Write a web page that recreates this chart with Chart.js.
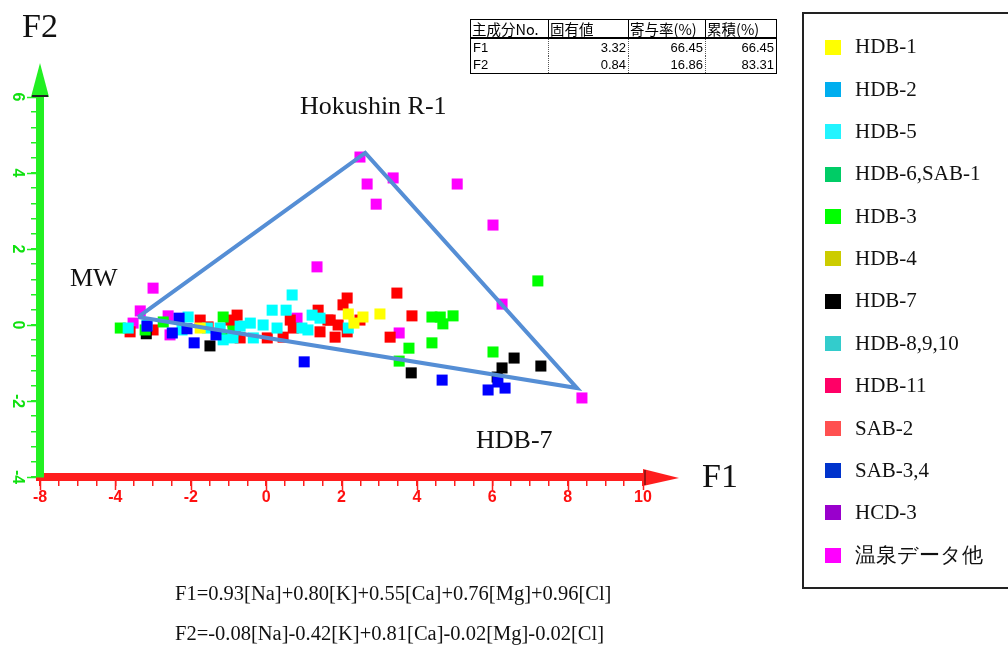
<!DOCTYPE html>
<html><head><meta charset="utf-8">
<script src="https://cdn.jsdelivr.net/npm/chart.js@4.4.1/dist/chart.umd.min.js"></script>
<style>
html,body{margin:0;padding:0;background:#fff;}
#wrap{position:relative;width:1008px;height:645px;overflow:hidden;background:#fff;}
#c{position:absolute;left:0;top:0;}
.lbl{position:absolute;font-family:"Liberation Serif","Times New Roman",serif;line-height:1;white-space:nowrap;color:#111;}
#legend{position:absolute;left:802px;top:12px;width:230px;height:577px;border:2.5px solid #222;box-sizing:border-box;}
.lg{position:absolute;left:0;height:22px;white-space:nowrap;}
.sw{position:absolute;left:21px;width:16px;height:15px;}
.lt{position:absolute;left:51px;font-family:"Liberation Serif","Times New Roman",serif;font-size:21px;line-height:1;color:#111;}
#tbl{position:absolute;left:470px;top:19px;border-collapse:collapse;border:1.5px solid #000;}
#tbl td{padding:0 2px;height:17px;line-height:17px;font-family:"Liberation Sans",Arial,sans-serif;font-size:13px;color:#000;}
#tbl tr.h td{font-family:"Noto Sans CJK JP",sans-serif;font-size:14.5px;border-bottom:2px solid #000;border-right:1px solid #000;text-align:left;padding:0 1px;}
#tbl tr.d td{border-right:1px dotted #555;text-align:right;}
#tbl tr.d td:first-child{text-align:left;}
</style></head>
<body>
<div id="wrap">
<canvas id="c" width="1008" height="645"></canvas>
<div class="lbl" style="left:22px;top:9px;font-size:34px;">F2</div>
<div class="lbl" style="left:702px;top:459px;font-size:34px;">F1</div>
<div class="lbl" style="left:300px;top:93px;font-size:26px;">Hokushin R-1</div>
<div class="lbl" style="left:70px;top:265px;font-size:26px;">MW</div>
<div class="lbl" style="left:476px;top:427px;font-size:26px;">HDB-7</div>
<div class="lbl" style="left:175px;top:583px;font-size:20.5px;">F1=0.93[Na]+0.80[K]+0.55[Ca]+0.76[Mg]+0.96[Cl]</div>
<div class="lbl" style="left:175px;top:623px;font-size:20.5px;">F2=-0.08[Na]-0.42[K]+0.81[Ca]-0.02[Mg]-0.02[Cl]</div>
<table id="tbl"></table>
<div id="legend"></div>
</div>
<script>
// ---- data ----
const seriesNames = ['HDB-1','HDB-2','HDB-5','HDB-6,SAB-1','HDB-3','HDB-4','HDB-7','HDB-8,9,10','HDB-11','SAB-2','SAB-3,4','HCD-3','温泉データ他'];
const legendColors = ['#FFFF00','#00AEEF','#22F4FF','#00CC66','#00FF00','#CCCC00','#000000','#33CCCC','#FF0066','#FF5050','#0033CC','#9900CC','#FF00FF'];
const markerColors = ['#FFFF00','#00AEEF','#00FFFF','#00CC66','#00FF00','#CCCC00','#000000','#33CCCC','#FF0000','#FF5050','#0000FF','#9900CC','#FF00FF'];
const drawOrder   = [2,8,3,8,4,8,5,8,6,8,1,8,7];

const hdb1 = [[2.18,0.29],[2.57,0.21],[2.33,0.05],[3.02,0.29],[-1.75,-0.08]];
const hdb2 = [];
const hdb5 = [[-3.66,-0.08],[-3.16,0.00],[-2.07,0.21],[-2.23,-0.13],[-1.56,-0.08],[-1.22,-0.08],[-1.14,-0.39],[-0.88,-0.34],
  [-0.42,0.05],[-0.34,-0.34],[-0.08,0.00],[0.29,-0.08],[0.16,0.39],[0.53,0.39],[0.69,0.79],[0.95,-0.08],[1.11,-0.13],
  [1.22,0.26],[1.43,0.18],[2.18,-0.08],[-0.69,-0.03]];
const hdb6sab1 = [];
const hdb3 = [[7.21,1.16],[4.40,0.21],[4.62,0.21],[4.69,0.03],[4.96,0.24],[4.40,-0.47],[3.79,-0.61],[3.53,-0.95],[6.02,-0.71],
  [-3.87,-0.08],[-1.14,0.21],[-1.11,-0.32],[-2.73,0.08],[-3.21,-0.13],[-0.88,-0.16]];
const hdb4 = [];
const hdb7 = [[6.58,-0.87],[7.29,-1.08],[6.26,-1.13],[6.13,-1.37],[3.85,-1.26],[-1.49,-0.55],[-3.18,-0.23]];
const hdb8910 = [];
const hdb11 = [[3.47,0.84],[2.15,0.71],[2.04,0.53],[3.87,0.24],[3.29,-0.32],[1.83,-0.32],[1.43,-0.18],[1.38,0.39],[1.70,0.13],
  [1.91,0.00],[2.15,-0.18],[0.64,0.13],[0.72,-0.08],[0.45,-0.32],[0.03,-0.34],[-0.69,-0.34],[-0.88,0.08],[-0.95,0.13],
  [-1.54,-0.05],[-1.75,0.13],[-3.00,-0.13],[-3.61,-0.18],[2.49,0.13],[1.64,0.13],[-0.82,-0.05],[-0.77,0.26]];
const sab2 = [];
const sab34 = [[4.67,-1.45],[5.89,-1.71],[6.34,-1.66],[6.15,-1.50],[1.01,-0.97],[-3.16,-0.03],[-2.31,0.18],[-2.10,-0.10],
  [-1.91,-0.47],[-1.33,-0.26],[-2.49,-0.21]];
const hcd3 = [];
const onsen = [[2.49,4.42],[2.68,3.71],[3.37,3.87],[2.92,3.18],[5.07,3.71],[6.02,2.63],[1.35,1.53],[-3.00,0.97],[-3.34,0.37],
  [-2.60,0.24],[-2.55,-0.26],[-3.53,0.05],[0.82,0.18],[3.53,-0.21],[6.26,0.55],[8.38,-1.92]];
const seriesData = [hdb1,hdb2,hdb5,hdb6sab1,hdb3,hdb4,hdb7,hdb8910,hdb11,sab2,sab34,hcd3,onsen];

// mixing triangle vertices: MW, Hokushin R-1, HDB-7
const triangle = [[-3.40,0.21],[2.63,4.53],[8.25,-1.66],[-3.40,0.21]];

const xMajorValues = [-6,-4,-2,0,2,4,6,8,10];
const xTickLabels  = ['-8','-4','-2','0','2','4','6','8','10'];
const yMajorValues = [-4,-2,0,2,4,6];
const yTickLabels  = ['-4','-2','0','2','4','6'];

const tableHeader = ['主成分No.','固有値','寄与率(%)','累積(%)'];
const tableRows = [['F1','3.32','66.45','66.45'],['F2','0.84','16.86','83.31']];

// ---- table ----
const tbl = document.getElementById('tbl');
const colW = [77,79,76,70];
let html = '<tr class="h">' + tableHeader.map((h,i)=>'<td style="width:'+(colW[i]-2)+'px">'+h+'</td>').join('') + '</tr>';
tableRows.forEach(r=>{ html += '<tr class="d">' + r.map(c=>'<td>'+c+'</td>').join('') + '</tr>'; });
tbl.innerHTML = html;

// ---- legend ----
const lg = document.getElementById('legend');
seriesNames.forEach((n,i)=>{
  const cy = 47.5 + i*42.35 - 12 - 2.5;
  const d = document.createElement('div');
  d.className='lg'; d.style.top = (cy-11)+'px';
  d.innerHTML = '<div class="sw" style="top:3.5px;background:'+legendColors[i]+'"></div><div class="lt" style="top:0.4px">'+n+'</div>';
  lg.appendChild(d);
});

// ---- chart ----
const RED='#FF1E1E', GREEN='#22F022';
const datasets = seriesNames.map((n,i)=>({
  label:n,
  data:seriesData[i].map(p=>({x:p[0],y:p[1]})),
  backgroundColor:markerColors[i],
  borderColor:markerColors[i],
  borderWidth:0,
  pointStyle:'rect',
  pointRadius:7.8,
  pointHoverRadius:7.8,
  order:drawOrder[i]
}));
datasets.push({
  label:'triangle',
  data:triangle.map(p=>({x:p[0],y:p[1]})),
  showLine:true,
  borderColor:'#558ED5',
  borderWidth:4,
  pointRadius:0,
  fill:false,
  order:0
});

const axisDeco = {
  id:'axisDeco',
  afterDraw(chart){
    const ctx=chart.ctx, xs=chart.scales.x, ys=chart.scales.y;
    const y0 = xs.top, x0 = ys.right;
    ctx.save();
    ctx.lineWidth=1.5;
    ctx.strokeStyle=RED;
    xMajorValues.forEach(v=>{const p=Math.round(xs.getPixelForValue(v))+0.5;ctx.beginPath();ctx.moveTo(p,y0+4);ctx.lineTo(p,y0+13);ctx.stroke();});
    ctx.strokeStyle=GREEN;
    yMajorValues.forEach(v=>{const p=Math.round(ys.getPixelForValue(v))+0.5;ctx.beginPath();ctx.moveTo(x0-4,p);ctx.lineTo(x0-13,p);ctx.stroke();});
    const xr = xs.right;
    ctx.fillStyle=RED;
    ctx.beginPath();ctx.moveTo(xr,y0-8);ctx.lineTo(xr+36,y0+1);ctx.lineTo(xr,y0+9);ctx.closePath();ctx.fill();
    ctx.strokeStyle='#7a1010';ctx.lineWidth=1.5;
    ctx.beginPath();ctx.moveTo(xr+2,y0-7);ctx.lineTo(xr+2,y0+8);ctx.stroke();
    const yt = ys.top;
    ctx.fillStyle=GREEN;
    ctx.beginPath();ctx.moveTo(x0-9,yt);ctx.lineTo(x0,yt-34);ctx.lineTo(x0+9,yt);ctx.closePath();ctx.fill();
    ctx.strokeStyle='#222';ctx.lineWidth=2;
    ctx.beginPath();ctx.moveTo(x0-8,yt-1);ctx.lineTo(x0+8,yt-1);ctx.stroke();
    ctx.restore();
  }
};

new Chart(document.getElementById('c'),{
  type:'scatter',
  data:{datasets},
  options:{
    responsive:false,
    animation:false,
    events:[],
    layout:{padding:{left:0,top:97,right:365,bottom:138}},
    plugins:{legend:{display:false},tooltip:{enabled:false}},
    scales:{
      x:{
        type:'linear',position:'bottom',min:-6,max:10,
        afterFit:(s)=>{s.height=30;},
        border:{display:true,color:RED,width:8},
        grid:{drawOnChartArea:false,drawTicks:true,tickLength:9,color:RED,lineWidth:1.5},
        ticks:{stepSize:0.5,autoSkip:false,maxRotation:0,minRotation:0,padding:2,color:'#FF1010',
          font:{family:'"Liberation Sans", Arial, sans-serif',size:16,weight:'bold'},
          callback:(v)=>{const i=xMajorValues.findIndex(m=>Math.abs(m-v)<1e-6);return i>=0?xTickLabels[i]:'';}}
      },
      y:{
        type:'linear',position:'left',min:-4,max:6,
        afterFit:(s)=>{s.width=40;},
        border:{display:true,color:GREEN,width:8},
        grid:{drawOnChartArea:false,drawTicks:true,tickLength:9,color:GREEN,lineWidth:1.5},
        ticks:{stepSize:0.4,autoSkip:false,minRotation:-90,maxRotation:-90,crossAlign:'center',padding:6,color:'#10E010',
          font:{family:'"Liberation Sans", Arial, sans-serif',size:16,weight:'bold'},
          callback:(v)=>{const i=yMajorValues.findIndex(m=>Math.abs(m-v)<1e-6);return i>=0?yTickLabels[i]:'';}}
      }
    }
  },
  plugins:[axisDeco]
});
</script>
</body></html>
